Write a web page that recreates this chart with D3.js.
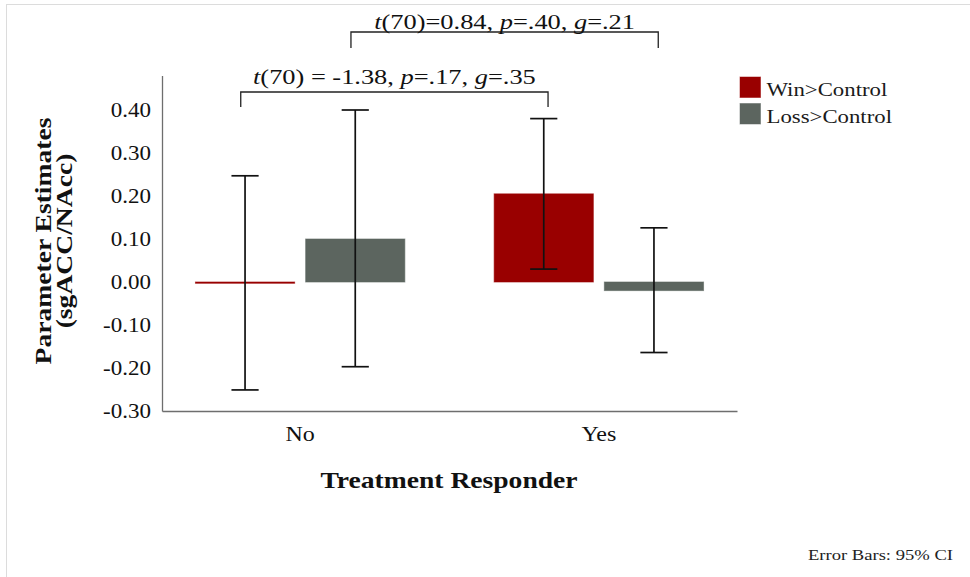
<!DOCTYPE html>
<html>
<head>
<meta charset="utf-8">
<script src="https://cdn.jsdelivr.net/npm/d3@7"></script>
<style>
  html, body { margin: 0; padding: 0; background: #fff; }
  svg { display: block; }
  text { font-family: "Liberation Serif", "Times New Roman", serif; fill: #111; }
</style>
</head>
<body>
<svg id="chart" width="970" height="577"></svg>
<script>
// ---------- data ----------
const categories = ["No", "Yes"];
const seriesNames = ["Win>Control", "Loss>Control"];
const seriesColors = ["#990000", "#5c655f"];
const winMeans  = [-0.003, 0.205];
const winLower  = [-0.251, 0.030];
const winUpper  = [0.247, 0.380];
const lossMeans = [0.100, -0.020];
const lossLower = [-0.197, -0.164];
const lossUpper = [0.400, 0.126];
const yTicks = [-0.3, -0.2, -0.1, 0.0, 0.1, 0.2, 0.3, 0.4];
const yMin = -0.3, yMax = 0.48;
const yTitleLines = ["Parameter Estimates", "(sgACC/NAcc)"];
const xTitle = "Treatment Responder";
const footnote = "Error Bars: 95% CI";
const lowerAnnot = [["t", true], ["(70) = -1.38, ", false], ["p", true], ["=.17, ", false], ["g", true], ["=.35", false]];
const upperAnnot = [["t", true], ["(70)=0.84, ", false], ["p", true], ["=.40, ", false], ["g", true], ["=.21", false]];

// ---------- build rows ----------
const means = [winMeans, lossMeans], lows = [winLower, lossLower], highs = [winUpper, lossUpper];
const rows = [];
categories.forEach((c, ci) => seriesNames.forEach((s, si) => {
  rows.push({cat: c, series: s, si, mean: means[si][ci], lo: lows[si][ci], hi: highs[si][ci]});
}));

const svg = d3.select("#chart");
const SX = 1.2; // horizontal glyph stretch seen in the reference

function stext(parent, x, y, str, opts = {}) {
  const t = parent.append("text")
    .attr("transform", `translate(${x},${y}) rotate(${opts.rot || 0}) scale(${opts.sx || SX},1)`)
    .attr("text-anchor", opts.anchor || "start")
    .style("font-size", (opts.size || 20) + "px")
    .style("font-weight", opts.bold ? "bold" : "normal");
  if (opts.fill) t.style("fill", opts.fill);
  if (str !== null) t.text(str);
  return t;
}

// frame lines
svg.append("line").attr("x1", 6).attr("x2", 970).attr("y1", 4.5).attr("y2", 4.5).attr("stroke", "#dcdcdc").attr("stroke-width", 1);
svg.append("line").attr("x1", 6.5).attr("x2", 6.5).attr("y1", 4).attr("y2", 577).attr("stroke", "#dcdcdc").attr("stroke-width", 1);

// ---------- scales ----------
const plotLeft = 162, plotRight = 737, plotTop = 75.6, plotBottom = 411;
const x = d3.scaleBand().domain(categories).range([plotLeft, plotRight]).paddingInner(0.299).paddingOuter(0.112);
const xs = d3.scaleBand().domain(seriesNames).range([0, x.bandwidth()]).paddingInner(0.1);
const y = d3.scaleLinear().domain([yMin, yMax]).range([plotBottom, plotTop]);

// ---------- axes ----------
const fmt = v => d3.format(".2f")(v).replace("\u2212", "-");
const yAxisG = svg.append("g").attr("transform", `translate(${plotLeft},0)`)
  .call(d3.axisLeft(y).tickValues(yTicks).tickSize(0).tickSizeOuter(0).tickFormat(fmt));
yAxisG.select(".domain").attr("stroke", "#6e6e6e").attr("stroke-width", 1.3);
yAxisG.selectAll(".tick text")
  .attr("x", null).attr("dy", "0.34em")
  .attr("transform", `translate(-11,0) scale(1.15,1)`)
  .attr("text-anchor", "end")
  .style("font-size", "20px").style("font-family", "Liberation Serif, serif").style("fill", "#111");

const xAxisG = svg.append("g").attr("transform", `translate(0,${plotBottom})`)
  .call(d3.axisBottom(x).tickSize(0).tickSizeOuter(0));
xAxisG.select(".domain").attr("stroke", "#6e6e6e").attr("stroke-width", 1.3);
xAxisG.selectAll(".tick text")
  .attr("y", null).attr("dy", null)
  .attr("transform", `translate(0,30) scale(${SX},1)`)
  .attr("text-anchor", "middle")
  .style("font-size", "20px").style("font-family", "Liberation Serif, serif").style("fill", "#111");

// ---------- bars ----------
const barX = d => x(d.cat) + xs(d.series);
const barC = d => barX(d) + xs.bandwidth() / 2;
svg.append("g").selectAll("rect").data(rows).join("rect")
  .attr("x", barX)
  .attr("width", xs.bandwidth())
  .attr("y", d => y(Math.max(0, d.mean)))
  .attr("height", d => Math.abs(y(d.mean) - y(0)))
  .attr("fill", d => seriesColors[d.si])
  .attr("stroke", d => seriesColors[d.si])
  .attr("stroke-opacity", 0.6)
  .attr("stroke-width", 1);

// ---------- error bars ----------
const capHalf = xs.bandwidth() * 0.137;
const eb = svg.append("g").attr("stroke", "#111").attr("stroke-width", 1.7);
eb.selectAll("line.v").data(rows).join("line").attr("class", "v")
  .attr("x1", barC).attr("x2", barC).attr("y1", d => y(d.lo)).attr("y2", d => y(d.hi));
eb.selectAll("line.t").data(rows).join("line").attr("class", "t")
  .attr("x1", d => barC(d) - capHalf).attr("x2", d => barC(d) + capHalf).attr("y1", d => y(d.hi)).attr("y2", d => y(d.hi));
eb.selectAll("line.b").data(rows).join("line").attr("class", "b")
  .attr("x1", d => barC(d) - capHalf).attr("x2", d => barC(d) + capHalf).attr("y1", d => y(d.lo)).attr("y2", d => y(d.lo));

// ---------- comparison brackets ----------
const brackets = [
  {a: rows[0], b: rows[2], lineY: 92, tickY: 107, textY: 84, parts: lowerAnnot},
  {a: rows[1], b: rows[3], lineY: 32, tickY: 48, textY: 28.5, parts: upperAnnot}
];
brackets.forEach(br => {
  const x1 = barC(br.a) - 4.3, x2 = barC(br.b) + 4.3;
  svg.append("path")
    .attr("d", `M${x1},${br.tickY}V${br.lineY}H${x2}V${br.tickY}`)
    .attr("fill", "none").attr("stroke", "#222").attr("stroke-width", 1.3);
  const t = stext(svg, (x1 + x2) / 2, br.textY, null, {size: 22, anchor: "middle"});
  br.parts.forEach(([s, it]) => t.append("tspan").text(s).style("font-style", it ? "italic" : "normal"));
});

// ---------- axis titles ----------
stext(svg, 449, 488, xTitle, {size: 23, bold: true, anchor: "middle"});
stext(svg, 51, 241, yTitleLines[0], {size: 23, bold: true, anchor: "middle", rot: -90});
stext(svg, 72, 241, yTitleLines[1], {size: 23, bold: true, anchor: "middle", rot: -90});

// ---------- legend ----------
const lg = svg.append("g");
seriesNames.forEach((s, i) => {
  const ly = 77 + i * 26.5;
  lg.append("rect").attr("x", 740).attr("y", ly).attr("width", 20.5).attr("height", 20.5)
    .attr("fill", seriesColors[i]).attr("stroke", seriesColors[i]).attr("stroke-opacity", 0.5);
  stext(lg, 766.5, ly + 19, s, {size: 19, fill: "#1a1a1a"});
});

// ---------- footnote ----------
stext(svg, 953, 559.5, footnote, {size: 15.5, anchor: "end", sx: 1.2, fill: "#222"});
</script>
</body>
</html>
